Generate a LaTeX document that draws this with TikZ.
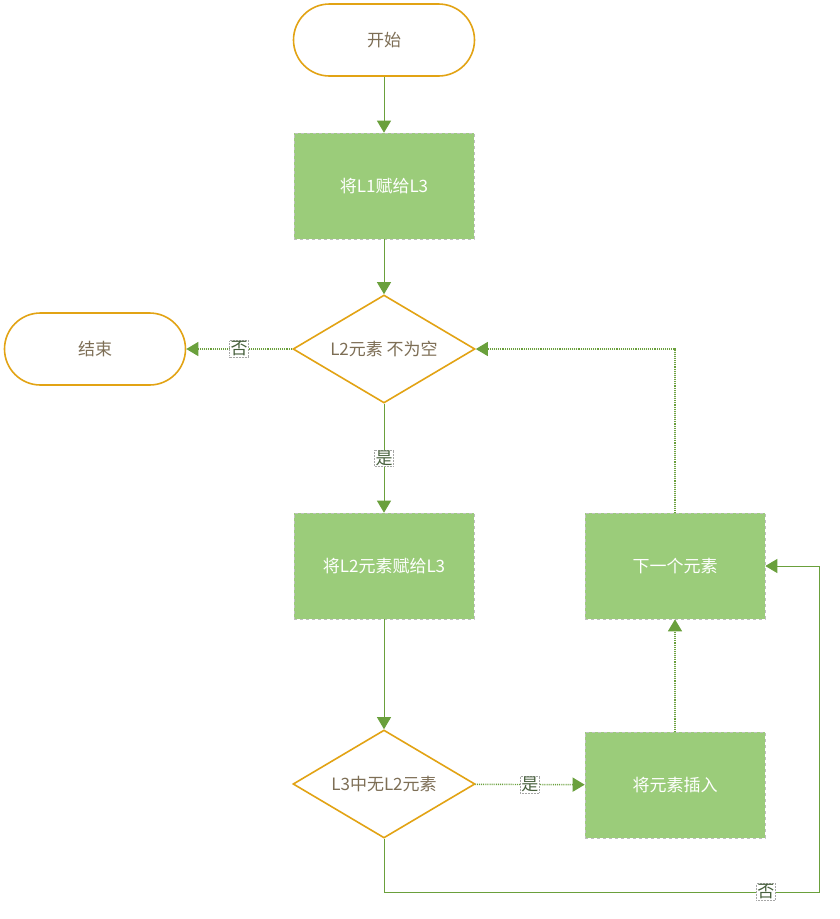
\documentclass[tikz,border=0pt]{standalone}
\usepackage{fontspec}
\setmainfont{Noto Sans CJK SC}
\usetikzlibrary{shapes.geometric,arrows.meta}
\definecolor{gfill}{RGB}{155,204,122}
\definecolor{gold}{RGB}{226,163,20}
\definecolor{gline}{RGB}{106,160,60}
\definecolor{ttext}{RGB}{125,110,85}
\definecolor{ltext}{RGB}{70,95,60}
\begin{document}
\begin{tikzpicture}[x=1pt,y=-1pt,
 every node/.style={font=\fontsize{17}{20}\selectfont},
 term/.style={draw=gold, line width=1.6pt, fill=white, rounded corners=36pt, minimum width=181pt, minimum height=72pt, text=ttext, inner sep=0},
 proc/.style={fill=gfill, draw=black!25, dashed, line width=0.6pt, minimum width=180pt, minimum height=106pt, text=white, inner sep=0},
 dec/.style={diamond, draw=gold, line width=1.6pt, fill=white, minimum width=182pt, minimum height=108pt, aspect=1.68, inner sep=0, text=ttext},
 lab/.style={fill=white, draw=black!35, densely dotted, line width=0.5pt, inner sep=1pt, text=ltext},
 con/.style={draw=gline, line width=0.9pt, -{Triangle[length=12pt,width=14pt]}},
 dcon/.style={con, densely dotted, line width=1.4pt},
 tcon/.style={con, densely dotted, line width=1.1pt},
]
\useasboundingbox (0,0) rectangle (840,919);
\node[term] (start) at (384,40) {开始};
\node[proc] (p1) at (384,186) {将L1赋给L3};
\node[dec] (d1) at (384,349) {L2元素 不为空};
\node[term] (end) at (95,349) {结束};
\node[proc] (p2) at (384,566) {将L2元素赋给L3};
\node[dec] (d2) at (384,784) {L3中无L2元素};
\node[proc] (p4) at (675,785) {将元素插入};
\node[proc] (p3) at (675,566) {下一个元素};
\coordinate (c1) at (384,892);
\coordinate (c2) at (819,892);
\draw[con] (start) -- (p1);
\draw[con] (p1) -- (d1);
\draw[dcon] (d1) -- node[lab]{否} (end);
\draw[con] (d1) -- node[lab]{是} (p2);
\draw[con] (p2) -- (d2);
\draw[dcon] (d2) -- node[lab]{是} (p4);
\draw[tcon] (p4) -- (p3);
\draw[tcon] (p3.north) |- (d1.east);
\draw[con] (d2.south) -- (c1) -- node[lab, pos=0.878]{否} (c2) |- (p3.east);
\end{tikzpicture}
\end{document}
